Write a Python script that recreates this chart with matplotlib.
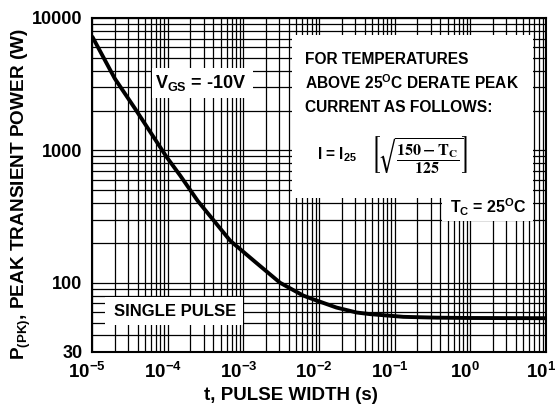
import matplotlib
matplotlib.use("Agg")
import matplotlib.pyplot as plt
from matplotlib.patches import Rectangle
from matplotlib.ticker import FixedLocator, NullFormatter, FixedFormatter
import matplotlib.transforms as mtransforms

plt.rcParams['font.family'] = ['Liberation Sans', 'DejaVu Sans']
plt.rcParams['font.weight'] = 'bold'
plt.rcParams['mathtext.fontset'] = 'custom'
plt.rcParams['mathtext.rm'] = 'Liberation Sans:bold'
plt.rcParams['mathtext.bf'] = 'Liberation Sans:bold'
plt.rcParams['mathtext.it'] = 'Liberation Sans:bold'
plt.rcParams['mathtext.sf'] = 'Liberation Sans:bold'

# Data
pulse_width = [1e-5, 2.0e-5, 3.7e-5, 9.7e-5, 1.46e-4, 2.5e-4, 6.7e-4, 1.43e-3,
               3.06e-3, 6.2e-3, 8.4e-3, 0.017, 0.0315, 0.047, 0.13, 0.36, 1.0, 10.0]
peak_power = [7300, 3490, 2070, 890, 647, 415, 208, 144,
              100, 80, 75, 65, 59.6, 58, 55.3, 54.5, 54.2, 54]

x_major = [1e-5, 1e-4, 1e-3, 1e-2, 1e-1, 1e0, 1e1]
x_labels = ['$10^{-5}$', '$10^{-4}$', '$10^{-3}$', '$10^{-2}$', '$10^{-1}$', '$10^{0}$', '$10^{1}$']
y_major = [30, 100, 1000, 10000]
y_labels = ['30', '100', '1000', '10000']

W, H = 557, 408
fig = plt.figure(figsize=(W / 100, H / 100), dpi=100)
ax = fig.add_axes([92 / W, 1 - 352 / H, 454 / W, 334 / H])
ax.set_xscale('log')
ax.set_yscale('log')
ax.set_xlim(1e-5, 10)
ax.set_ylim(30, 10000)

# grid lines at every integer multiple of each decade
xg = [m * 10.0**e for e in range(-5, 1) for m in range(1, 10)] + [10.0]
yg = [m * 10.0**e for e in range(1, 4) for m in range(1, 10) if m * 10.0**e >= 30] + [10000.0]
ax.xaxis.set_major_locator(FixedLocator(x_major))
ax.xaxis.set_major_formatter(FixedFormatter(x_labels))
ax.xaxis.set_minor_locator(FixedLocator(xg))
ax.xaxis.set_minor_formatter(NullFormatter())
ax.yaxis.set_major_locator(FixedLocator(y_major))
ax.yaxis.set_major_formatter(FixedFormatter(y_labels))
ax.yaxis.set_minor_locator(FixedLocator(yg))
ax.yaxis.set_minor_formatter(NullFormatter())
ax.grid(True, which='both', color='black', linewidth=0.9)
ax.tick_params(which='both', length=0)
ax.tick_params(axis='y', labelsize=13, pad=7)
ax.tick_params(axis='x', labelsize=13.5, pad=7)
shift = mtransforms.ScaledTranslation(-5 / 100, 0, fig.dpi_scale_trans)
for lab in ax.get_xticklabels():
    lab.set_fontweight('bold')
    lab.set_transform(lab.get_transform() + shift)
for lab in ax.get_yticklabels():
    lab.set_fontweight('bold')
for s in ax.spines.values():
    s.set_linewidth(1.5)

ax.plot(pulse_width, peak_power, color='black', linewidth=2.8, zorder=4,
        solid_capstyle='butt', solid_joinstyle='round')

def px(x):
    return (x - 92) / 454

def py(y):
    return (352 - y) / 334

def wbox(x0, y0, x1, y1):
    ax.add_patch(Rectangle((px(x0), py(y1)), px(x1) - px(x0), py(y0) - py(y1),
                           transform=ax.transAxes, facecolor='white',
                           edgecolor='none', zorder=5))

wbox(292, 35, 533, 198)
wbox(442, 197, 533, 221)
wbox(152, 68, 253, 98)
wbox(105, 297, 243, 325)

def label(x, y, s, size, ha='center', **kw):
    ax.text(px(x), py(y), s, transform=ax.transAxes, ha=ha, va='center',
            fontsize=size, fontweight='bold', zorder=6, **kw)

label(201, 83, r'V$_{\mathrm{GS}}$ = -10V', 13)
label(175, 311, 'SINGLE PULSE', 12)
label(488, 207, r'T$_{\mathrm{C}}$ = 25$^{\mathrm{O}}$C', 11.5)
label(305, 59, 'FOR TEMPERATURES', 11.2, ha='left')
label(305, 83, r'ABOVE 25$^{\mathrm{O}}$C DERATE PEAK', 11.2, ha='left')
label(305, 108, 'CURRENT AS FOLLOWS:', 11.2, ha='left')
label(317, 155, r'I = I$_{\mathrm{25}}$', 11.2, ha='left')
label(419, 155, r'$\left[\sqrt{\dfrac{\mathbf{150 - T_C}}{\mathbf{125}}}\right]$', 11.5,
      math_fontfamily='stix')

fig.text(291 / W, 1 - 395 / H, 't, PULSE WIDTH (s)', ha='center', va='center',
         fontsize=13.5, fontweight='bold')
fig.text(21 / W, 1 - 194 / H, r'P$_{\mathrm{(PK)}}$, PEAK TRANSIENT POWER (W)',
         ha='center', va='center', rotation=90, fontsize=13.7, fontweight='bold')

fig.savefig('out.png', dpi=100)
